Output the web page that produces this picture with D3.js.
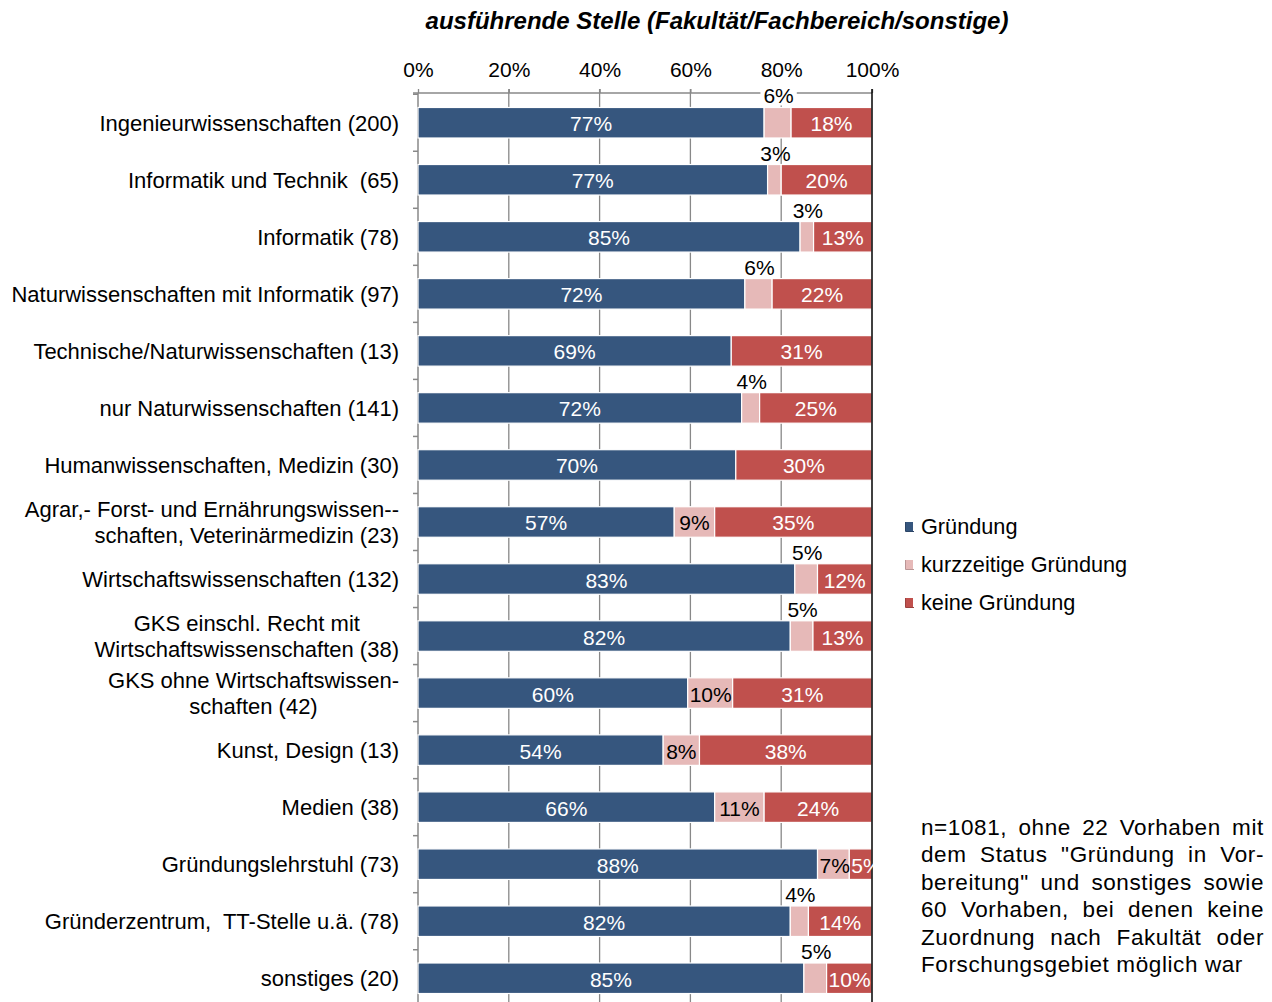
<!DOCTYPE html>
<html>
<head>
<meta charset="utf-8">
<script src="https://cdn.jsdelivr.net/npm/d3@7"></script>
<style>
  html, body { margin: 0; padding: 0; background: #fff; }
  svg { display: block; font-family: "Liberation Sans", Arial, sans-serif; }
</style>
</head>
<body>
<svg id="chart" width="1272" height="1002"></svg>
<script>
// ---------- data ----------
const categories = [
  "Ingenieurwissenschaften (200)",
  "Informatik und Technik  (65)",
  "Informatik (78)",
  "Naturwissenschaften mit Informatik (97)",
  "Technische/Naturwissenschaften (13)",
  "nur Naturwissenschaften (141)",
  "Humanwissenschaften, Medizin (30)",
  "Agrar,- Forst- und Ernährungswissen--\nschaften, Veterinärmedizin (23)",
  "Wirtschaftswissenschaften (132)",
  "GKS einschl. Recht mit\nWirtschaftswissenschaften (38)",
  "GKS ohne Wirtschaftswissen-\nschaften (42)",
  "Kunst, Design (13)",
  "Medien (38)",
  "Gründungslehrstuhl (73)",
  "Gründerzentrum,  TT-Stelle u.ä. (78)",
  "sonstiges (20)"
];
const rightAlignedLabels = [7];
const seriesNames = ["Gründung", "kurzzeitige Gründung", "keine Gründung"];
const gruendung     = [77, 77, 85, 72, 69, 72, 70, 57, 83, 82, 60, 54, 66, 88, 82, 85];
const kurzzeitig    = [ 6,  3,  3,  6,  0,  4,  0,  9,  5,  5, 10,  8, 11,  7,  4,  5];
const keine         = [18, 20, 13, 22, 31, 25, 30, 35, 12, 13, 31, 38, 24,  5, 14, 10];
const tickValues = [0, 0.2, 0.4, 0.6, 0.8, 1.0];
const tickLabels = ["0%", "20%", "40%", "60%", "80%", "100%"];
const titleText = "ausführende Stelle (Fakultät/Fachbereich/sonstige)";
const noteLines = [
  "n=1081, ohne 22 Vorhaben mit",
  "dem Status \"Gründung in Vor-",
  "bereitung\" und sonstiges sowie",
  "60 Vorhaben, bei denen keine",
  "Zuordnung nach Fakultät oder",
  "Forschungsgebiet möglich war"
];

// ---------- style ----------
const colors = ["#36567e", "#e6b9b8", "#c0504d"];
const FS = 21;

const svg = d3.select("#chart");
svg.append("rect").attr("width", 1272).attr("height", 1002).attr("fill", "#fff");

const x = d3.scaleLinear().domain([0, 1]).range([418, 872]);
const y = d3.scaleBand().domain(categories).range([93, 1008])
  .paddingInner(0.465).paddingOuter(0.254);

const rows = categories.map((c, i) => ({
  cat: c, i,
  [seriesNames[0]]: gruendung[i],
  [seriesNames[1]]: kurzzeitig[i],
  [seriesNames[2]]: keine[i]
}));
const stacked = d3.stack().keys(seriesNames).offset(d3.stackOffsetExpand)(rows);

// title
svg.append("text")
  .attr("x", 717).attr("y", 29)
  .attr("text-anchor", "middle")
  .attr("font-size", 24).attr("font-weight", "bold").attr("font-style", "italic")
  .attr("fill", "#000")
  .text(titleText);

// gridlines
const yTop = 93, yBot = 1002;
svg.append("g").selectAll("line").data(tickValues.filter(v => v > 0 && v < 1)).join("line")
  .attr("x1", d => x(d)).attr("x2", d => x(d))
  .attr("y1", yTop - 4).attr("y2", yBot)
  .attr("stroke", "#888").attr("stroke-width", 1.3);

// top axis
const xAxis = d3.axisTop(x).tickValues(tickValues)
  .tickFormat((d, i) => tickLabels[i]).tickSize(4).tickSizeOuter(0);
const axG = svg.append("g").attr("transform", `translate(0,${yTop})`).call(xAxis);
axG.select(".domain").attr("stroke", "#888").attr("stroke-width", 1.5)
  .attr("d", `M${x(0) - 5},0H${x(1)}`);
axG.selectAll(".tick line").attr("stroke", "#888").attr("stroke-width", 1.3);
axG.selectAll(".tick text").attr("font-size", FS).attr("fill", "#000")
  .attr("font-family", "'Liberation Sans', Arial, sans-serif").attr("dy", "-0.45em");

// category axis
svg.append("line").attr("x1", x(0)).attr("x2", x(0)).attr("y1", yTop).attr("y2", yBot)
  .attr("stroke", "#888").attr("stroke-width", 1.5);
const half = y.step() * y.paddingInner() / 2;
svg.append("g").selectAll("line").data(categories).join("line")
  .attr("x1", x(0) - 5).attr("x2", x(0))
  .attr("y1", d => y(d) - half).attr("y2", d => y(d) - half)
  .attr("stroke", "#888").attr("stroke-width", 1.5);

// bars
const barG = svg.append("g");
stacked.forEach((s, si) => {
  barG.append("g").selectAll("rect").data(s).join("rect")
    .attr("x", d => x(d[0]))
    .attr("width", d => Math.max(0, x(d[1]) - x(d[0])))
    .attr("y", d => y(d.data.cat))
    .attr("height", y.bandwidth())
    .attr("fill", colors[si])
    .attr("stroke", "#fff").attr("stroke-width", 1.2);
});

// 100% line
svg.append("line").attr("x1", x(1)).attr("x2", x(1)).attr("y1", yTop - 4).attr("y2", yBot)
  .attr("stroke", "#000").attr("stroke-width", 1.5);

// clip for inside labels
svg.append("clipPath").attr("id", "plotclip").append("rect")
  .attr("x", x(0)).attr("y", 0).attr("width", x(1) - x(0) + 1).attr("height", 1002);

// value labels
const labG = svg.append("g");
const clipG = labG.append("g").attr("clip-path", "url(#plotclip)");
stacked.forEach((s, si) => {
  s.forEach(d => {
    const v = d.data[seriesNames[si]];
    if (!v) return;
    const x0 = x(d[0]), x1 = x(d[1]);
    const cx = (x0 + x1) / 2;
    const top = y(d.data.cat);
    if (si === 1 && v <= 6) {
      const t = labG.append("text")
        .attr("x", cx + 1).attr("y", top - 4)
        .attr("text-anchor", "middle").attr("font-size", FS).attr("fill", "#000")
        .text(v + "%");
      if (d.data.i === 0) {
        const bb = t.node().getBBox();
        labG.insert("rect", () => t.node()).attr("x", bb.x - 3).attr("y", bb.y).attr("width", bb.width + 6)
          .attr("height", bb.height - 2).attr("fill", "#fff");
      }
    } else {
      const t = clipG.append("text")
        .attr("y", top + y.bandwidth() / 2 + 8.5)
        .attr("text-anchor", "middle").attr("font-size", FS)
        .attr("fill", si === 1 ? "#000" : "#fff")
        .text(v + "%");
      const w = t.node().getComputedTextLength();
      t.attr("x", Math.max(cx, x0 + w / 2 + 2));
    }
  });
});

// category labels
const catG = svg.append("g");
const CFS = 22;
const labelRight = 399, lineH = 25.5;
categories.forEach((c, i) => {
  const lines = c.split("\n");
  const cy = y(c) + y.bandwidth() / 2;
  const g = catG.append("g");
  const texts = lines.map((ln, k) => g.append("text")
    .attr("font-size", CFS).attr("fill", "#000")
    .style("white-space", "pre")
    .attr("y", cy + 8 + (k - (lines.length - 1) / 2) * lineH)
    .text(ln));
  if (lines.length === 1 || rightAlignedLabels.includes(i)) {
    texts.forEach(t => t.attr("x", labelRight).attr("text-anchor", "end"));
  } else {
    const maxW = d3.max(texts, t => t.node().getComputedTextLength());
    texts.forEach(t => t.attr("x", labelRight - maxW / 2).attr("text-anchor", "middle"));
  }
});

// legend
const legG = svg.append("g").attr("transform", "translate(905,0)");
const legY = [527, 565, 603];
seriesNames.forEach((n, i) => {
  const g = legG.append("g").attr("transform", `translate(0,${legY[i]})`);
  g.append("rect").attr("x", 0).attr("y", -5).attr("width", 8).attr("height", 9).attr("fill", colors[i]);
  g.append("path").attr("d", "M0.5,-5V4.5H9").attr("fill", "none")
    .attr("stroke", d3.color(colors[i]).darker(0.6)).attr("stroke-width", 1);
  g.append("text").attr("x", 16).attr("y", 7).attr("font-size", 21.7).attr("fill", "#000").text(n);
});

// note (justified)
const noteG = svg.append("g").attr("font-size", 22.5).attr("letter-spacing", 0.6).attr("fill", "#000");
const nx0 = 921, nx1 = 1264, ny0 = 835, nLH = 27.4;
noteLines.forEach((ln, k) => {
  const yy = ny0 + k * nLH;
  if (k === noteLines.length - 1) {
    noteG.append("text").attr("x", nx0).attr("y", yy).text(ln);
    return;
  }
  const words = ln.split(" ");
  const ts = words.map(w => noteG.append("text").attr("y", yy).text(w));
  const widths = ts.map(t => t.node().getBBox().width);
  const gap = (nx1 - nx0 - d3.sum(widths)) / (words.length - 1);
  let cx = nx0;
  ts.forEach((t, j) => { t.attr("x", cx); cx += widths[j] + gap; });
});
</script>
</body>
</html>
